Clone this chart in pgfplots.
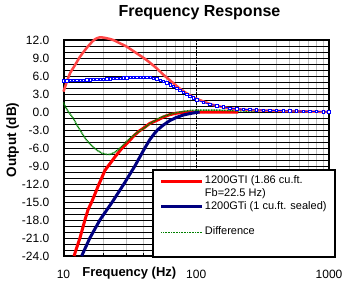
\documentclass[border=0pt]{standalone}
\usepackage{pgfplots}
\pgfplotsset{compat=1.18}
\usepackage{fontspec}
\setmainfont{Liberation Sans}
\definecolor{navyc}{RGB}{0,0,128}
\definecolor{greenc}{RGB}{0,128,0}
\definecolor{gridgray}{RGB}{192,192,192}
\definecolor{hatchred}{RGB}{255,70,70}
\begin{document}
\begin{tikzpicture}
\fill[white] (-63.5pt,-33pt) rectangle (286.5pt,256pt);
\begin{axis}[
  at={(0,0)}, anchor=south west,
  scale only axis, width=265.5pt, height=216pt,
  xmode=log, xmin=10, xmax=1000, ymin=-24, ymax=12,
  clip=false,
  xtick={10,100,1000}, xticklabels={10,100,1000},
  ytick={-24,-21,...,12},
  extra y ticks={-23,-22,-20,-19,-17,-16,-14,-13,-11,-10,-8,-7,-5,-4,-2,-1,1,2,4,5,7,8,10,11},
  extra y tick labels={},
  extra y tick style={grid=major, major grid style={gridgray, line width=0.8pt, solid},
     major tick length=3pt, tick style={black, line width=0.8pt}},
  /pgf/number format/assume math mode=true,
  yticklabel style={/pgf/number format/.cd, fixed, fixed zerofill, precision=1, /tikz/.cd,
     font=\fontsize{12}{14}\selectfont, inner sep=0pt, xshift=-14pt},
  xticklabel style={font=\fontsize{12}{14}\selectfont, inner sep=0pt, yshift=-14pt},
  tick align=inside, xtick pos=bottom, ytick pos=left,
  major tick length=0pt, minor tick length=3pt,
  every tick/.style={black, line width=0.8pt},
  xmajorgrids, xminorgrids, ymajorgrids,
  every major x grid/.append style={black, densely dotted, line width=0.8pt},
  every minor x grid/.append style={gridgray, line width=0.8pt},
  every major y grid/.append style={black, line width=0.8pt},
  axis line style={line width=2pt},
  title={Frequency Response},
  title style={at={(axis description cs:0.512,1)}, anchor=base, yshift=18pt, inner sep=0pt,
     font=\bfseries\fontsize{16}{19}\selectfont},
  xlabel={Frequency (Hz)},
  xlabel style={at={(axis description cs:0.248,0)}, anchor=north, yshift=-11pt, inner sep=0pt,
     font=\bfseries\fontsize{13}{15}\selectfont},
  ylabel={Output (dB)},
  ylabel style={at={(axis description cs:-0.192,0.537)}, anchor=center, inner sep=0pt,
     font=\bfseries\fontsize{13.5}{16}\selectfont},
  legend image code/.code={\draw[#1] (0pt,0pt) -- (41pt,0pt);},
  legend cell align=left,
  legend style={at={(axis description cs:0.333,0.403)}, anchor=north west,
     draw=black, line width=2pt, fill=white,
     inner xsep=7pt, inner ysep=5pt, column sep=1pt, row sep=0pt,
     font=\fontsize{11}{13}\selectfont,
     nodes={inner sep=0pt, text height=8.6pt, text depth=4.2pt}},
]
% ported response
\addplot[red, line width=3pt, line join=round] coordinates {
(12.0,-24) (13.3,-21) (14.5,-18) (15.3,-16.3) (16.3,-15) (17.3,-13.6)
(18.3,-12.25) (19.4,-11.0) (20.5,-9.75) (22.4,-8.6) (24.4,-7.5) (27.4,-6.1) (30.7,-5.0)
(33.5,-4.1) (36.5,-3.3) (40,-2.7) (44.7,-1.9) (51.6,-1.3) (56.3,-0.85) (63,-0.45)
(71,-0.2) (80,-0.08) (90,-0.02) (100,0) (150,0) (207,0)};
\addlegendentry{1200GTI (1.86 cu.ft.}
\addlegendimage{empty legend}
\addlegendentry{Fb=22.5 Hz)}
% sealed response
\addplot[navyc, line width=3pt, line join=round] coordinates {
(13.7,-24) (15.8,-21) (18.8,-18) (23.3,-15) (28.5,-12) (34.5,-9)
(37.6,-7.5) (41,-6) (44.7,-4.6) (48.7,-3.5) (51.6,-2.9) (56.3,-2.2) (63,-1.45)
(71,-0.9) (80,-0.5) (90,-0.25) (100,-0.08) (106,0)};
\addlegendentry{\makebox[123pt][l]{1200GTi (1 cu.ft. sealed)}}
\addlegendimage{empty legend}
\addlegendentry{}
% difference
\addplot[greenc, line width=1.5pt, dash pattern=on 1pt off 0.6pt, line join=round] coordinates {
(10,1.6) (10.3,0.9) (11.0,-0.1) (11.85,-1.05) (12.5,-2.0) (13.3,-3.0) (14.1,-3.9)
(14.9,-4.67) (15.8,-5.3) (16.75,-5.85) (18,-6.4) (19.4,-6.85) (21,-7.05) (22.4,-7.05)
(24,-6.8) (25.8,-6.3) (27.4,-5.75) (29.9,-4.9) (32.5,-4.2) (36,-3.4) (41,-2.6)
(45,-1.9) (51.6,-1.1) (57,-0.7) (63,-0.4) (71,-0.1) (80,0.1) (90,0.25) (100,0.3)
(150,0.3) (200,0.2) (300,0.1)};
\addlegendentry{Difference}
\addlegendimage{empty legend}
\addlegendentry{}
% hatched red series
\addplot[forget plot, hatchred, line width=2.5pt, line join=round, smooth] coordinates {
(10,3.4) (10.5,4.8) (11.2,6.45) (12.2,7.8) (13.3,9.2) (14.5,10.3) (15.8,11.3)
(17.2,12.1) (18.8,12.45) (21.1,12.3) (23.7,12.0) (26.6,11.45) (29.9,10.9) (35.5,9.8)
(42.2,8.67) (50.2,7.3) (56,6.3) (63,5.33) (69,4.6) (75,3.9) (82,3.3) (89,2.83)
(97,2.35) (106,2.0) (120,1.55) (133,1.2) (160,0.8) (200,0.48) (250,0.35) (300,0.27)
(400,0.2) (500,0.15) (700,0.08) (1000,0)};
% blue marker series
\addplot[forget plot, blue, line width=0.8pt, mark=square*, mark size=1.2pt,
   mark options={solid, fill=white, draw=blue, line width=0.7pt}] coordinates {
(10,5.2) (10.59,5.22) (11.22,5.24) (11.89,5.26) (12.6,5.28) (13.35,5.3) (14.14,5.32)
(14.98,5.35) (15.87,5.37) (16.82,5.4) (17.82,5.42) (18.88,5.45) (20,5.47) (21.19,5.5)
(22.45,5.53) (23.78,5.56) (25.2,5.6) (26.7,5.63) (28.28,5.67) (29.97,5.7) (31.75,5.73)
(33.64,5.76) (35.64,5.78) (37.76,5.8) (40,5.8) (42.38,5.78) (44.9,5.74) (47.57,5.65)
(50.4,5.5) (53.4,5.3) (56.57,5.1) (59.93,4.85) (63.5,4.55) (67.27,4.25) (71.27,3.95)
(75.5,3.6) (80,3.25) (84.76,2.95) (89.8,2.65) (95.14,2.35) (100.8,2.05) (113.1,1.6)
(127,1.3) (142.5,1.05) (160,0.85) (179.6,0.65) (201.6,0.52) (226.3,0.45) (254,0.4)
(285,0.35) (320,0.3) (359,0.27) (403,0.25) (453,0.22) (508,0.19) (570,0.16) (640,0.13)
(718,0.1) (806,0.07) (905,0.04) (1000,0.0)};
\end{axis}
\end{tikzpicture}
\end{document}
